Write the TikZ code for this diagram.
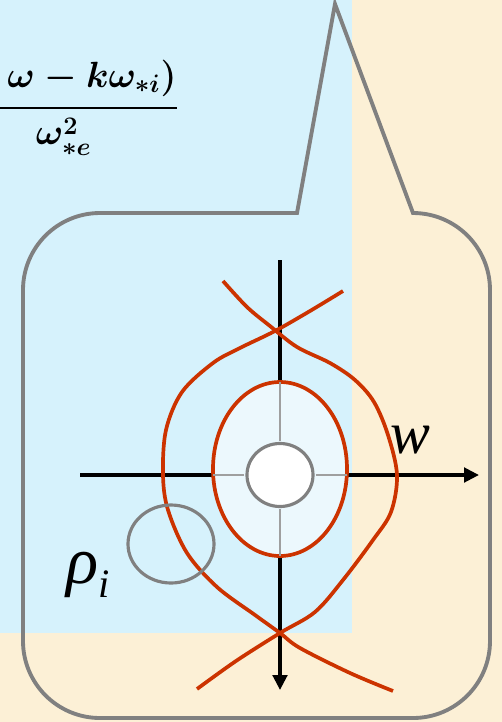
\documentclass[tikz,border=0pt]{standalone}
\usepackage{amsmath}
\usepackage{fontspec}
\newfontfamily\labelfont{Liberation Serif}
\usetikzlibrary{arrows.meta,shapes.geometric}
\definecolor{paper}{RGB}{252,240,214}
\definecolor{sky}{RGB}{214,242,252}
\definecolor{pale}{RGB}{236,248,253}
\definecolor{rust}{RGB}{204,51,0}

\begin{document}
\begin{tikzpicture}[x=0.2mm, y=-0.2mm,
  outline/.style={draw=gray, line width=2.2pt},
  axis/.style={line width=2pt, -{Triangle[length=3mm,width=2.9mm]}},
  orbit/.style={draw=rust, line width=2.1pt},
  inner/.style={draw=gray!75, line width=1.6pt}]
  \clip (0,0) rectangle (502,722);
  \fill[paper] (0,0) rectangle (502,722);
  \fill[sky] (0,0) rectangle (352,633);

  \node (frac) [anchor=base east, inner sep=0pt, font=\fontsize{22.5}{27}\selectfont\boldmath]
        at (179,117) {$\dfrac{\hspace{11.3mm}\omega-k\omega_{*i})\rule[-8.7pt]{0pt}{0pt}}{\omega^{2}_{*e}}$};

  % speech bubble
  \draw[outline] (297,213) -- (335,4) -- (413,213)
     arc[start angle=-90, end angle=0, radius=77] -- (490,641)
     arc[start angle=0, end angle=90, radius=77] -- (100,718)
     arc[start angle=90, end angle=180, radius=77] -- (23,290)
     arc[start angle=180, end angle=270, radius=77] -- cycle;

  \coordinate (top)   at (280,260);
  \coordinate (bot)   at (280,690);
  \coordinate (left)  at (80,475);
  \coordinate (right) at (479,475);
  \draw[axis] (top) -- (bot);
  \draw[axis] (left) -- (right);

  \node (core) [ellipse, draw=rust, line width=2.1pt, fill=pale, inner sep=0pt,
                minimum width=26.8mm, minimum height=34.8mm] at (280,469) {};
  \node (hole) [ellipse, draw=gray, line width=1.8pt, fill=white, inner sep=0pt,
                minimum width=13.2mm, minimum height=12.6mm] at (280,475) {};
  \draw[inner, shorten >=1pt, shorten <=0.8pt] (hole.north) -- (core.north);
  \draw[inner, shorten >=1pt, shorten <=0.8pt] (hole.south) -- (core.south);
  \draw[inner, shorten >=1pt, shorten <=0.8pt] (hole.west)  -- (left -| core.west);
  \draw[inner, shorten >=1pt, shorten <=0.8pt] (hole.east)  -- (right -| core.east);

  \draw[orbit] plot[smooth, tension=0.55] coordinates {(343,291) (310,311) (275,331)
     (240,348) (213,363) (182,392) (166,430) (163,475) (168,510) (187,553) (217,587)
     (255,615) (280,633) (300,648) (350,673) (393,691)};
  \draw[orbit] plot[smooth, tension=0.55] coordinates {(223,281) (247,307) (270,326)
     (297,347) (330,363) (355,380) (374,402) (388,435) (397,475) (391,512) (373,540)
     (343,580) (315,612) (280,633) (236,661) (197,689)};

  \node (gyro) [ellipse, draw=gray, line width=1.8pt, inner sep=0pt,
                minimum width=17.2mm, minimum height=15.6mm] at (171,544) {};

  \node (w) [anchor=base west, inner sep=0pt, font=\labelfont\itshape\fontsize{34}{34}\selectfont]
        at (390,453) {w};
  \node (rho) [anchor=base west, inner sep=0pt, font=\labelfont\itshape\fontsize{38}{38}\selectfont]
        at (66,583) {ρ\raisebox{-2.8mm}{\fontsize{23}{23}\selectfont i}};
\end{tikzpicture}
\end{document}
